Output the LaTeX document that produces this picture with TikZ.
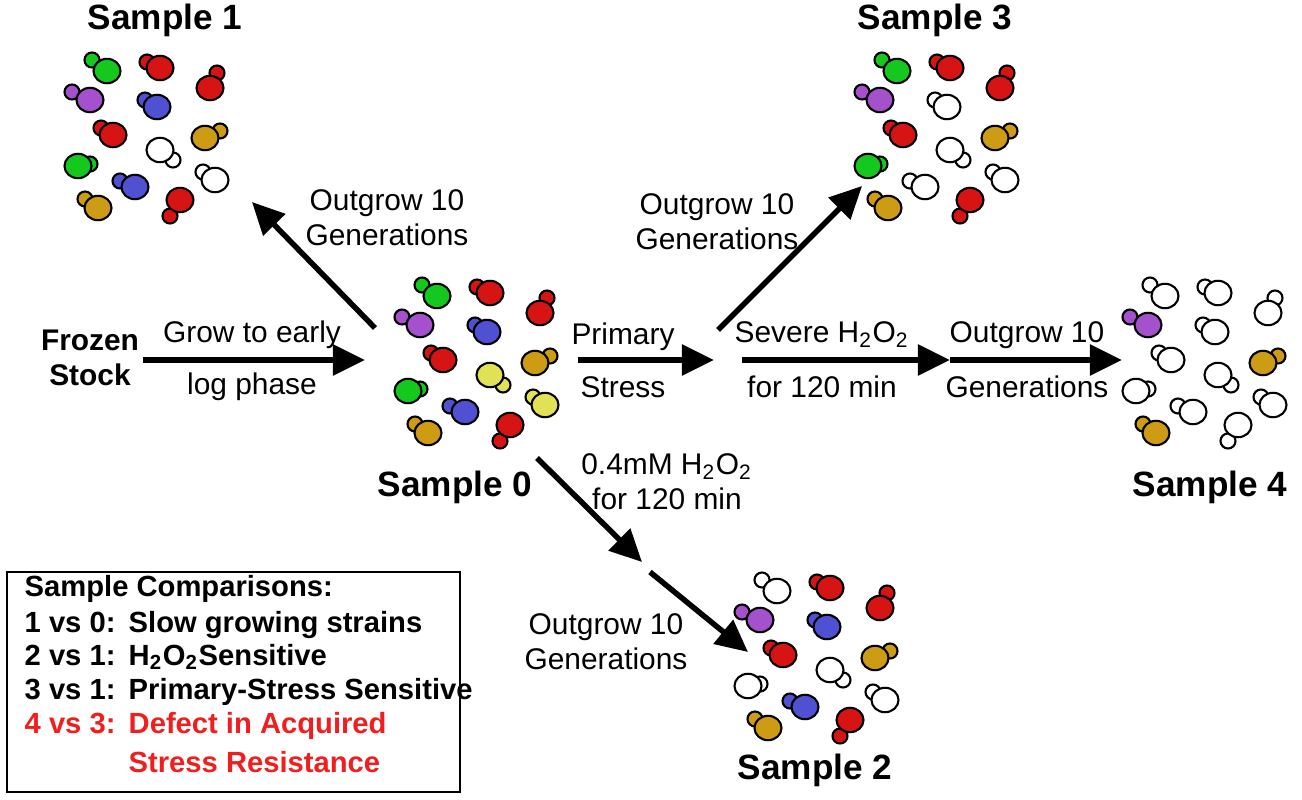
\documentclass[tikz,border=0pt]{standalone}
\usepackage{fontspec}
\setmainfont{Liberation Sans}
\usetikzlibrary{arrows.meta, positioning}
\definecolor{cgreen}{RGB}{20,200,30}
\definecolor{cred}{RGB}{215,20,20}
\definecolor{cpurple}{RGB}{165,80,205}
\definecolor{cblue}{RGB}{80,80,210}
\definecolor{cgold}{RGB}{205,155,20}
\definecolor{cyellow}{RGB}{225,225,85}
\definecolor{cwhite}{RGB}{255,255,255}
\definecolor{legred}{RGB}{240,30,30}
\newcommand\sub[1]{\textsubscript{#1}}
\tikzset{
  cell/.style={draw=black, line width=0.6pt},
  flow/.style={line width=0.55mm, -{Triangle[length=3.2mm,width=3mm]}},
  lbl/.style={font=\fontsize{8.5}{10}\selectfont, align=center},
  smp/.style={font=\fontsize{10}{12}\selectfont\bfseries},
  leg/.style={font=\fontsize{8.3}{10}\selectfont\bfseries, anchor=base west, inner sep=0pt}
}
% one colony: shift, colour list
\newcommand\colony[3]{%
  \begin{scope}[shift={(#1,#2)}]
  \def\cols{#3}
  \foreach \x/\y/\dx/\dy [count=\i from 0] in {437/296/-15/-11, 490/293/-13/-6, 540/313/7/-15,
      420/325/-18/-8, 487/332/-12/-7, 443/360/-12/-7, 535/363/15/-7, 490/375/13/10,
      408/391/12/-2, 545/405/-12/-8, 465/412/-15/-6, 428/433/-13/-9, 510/425/-10/16}{
    \pgfmathsetmacro\c{\cols[\i]}
    \filldraw[cell, fill=\c] (\x+\dx,\y+\dy) circle (0.075cm);
    \filldraw[cell, fill=\c] (\x,\y) ellipse (0.135cm and 0.122cm);
  }
  \end{scope}}
\begin{document}
\begin{tikzpicture}[x=0.01cm, y=-0.01cm]
\useasboundingbox (0,0) rectangle (1302,800);
% colonies
\colony{0}{0}{{"cgreen","cred","cred","cpurple","cblue","cred","cgold","cyellow","cgreen","cyellow","cblue","cgold","cred"}}
\colony{-330}{-225}{{"cgreen","cred","cred","cpurple","cblue","cred","cgold","cwhite","cgreen","cwhite","cblue","cgold","cred"}}
\colony{460}{-225}{{"cgreen","cred","cred","cpurple","cwhite","cred","cgold","cwhite","cgreen","cwhite","cwhite","cgold","cred"}}
\colony{728}{0}{{"cwhite","cwhite","cwhite","cpurple","cwhite","cwhite","cgold","cwhite","cwhite","cwhite","cwhite","cgold","cwhite"}}
\colony{340}{295}{{"cwhite","cred","cred","cpurple","cblue","cred","cgold","cwhite","cwhite","cwhite","cblue","cgold","cred"}}
% sample names
\node[smp] (s0) at (455,487) {Sample 0};
\node[smp] (s1) at (165,20) {Sample 1};
\node[smp] (s2) at (815,770) {Sample 2};
\node[smp] (s3) at (935,20) {Sample 3};
\node[smp] (s4) at (1210,487) {Sample 4};
\node[lbl, font=\fontsize{8.5}{10}\selectfont\bfseries] (frozen) at (90,358) {Frozen\\Stock};
% arrow ends
\coordinate (a1) at (143,360);  \coordinate (a2) at (365,360);
\coordinate (b1) at (375,328);  \coordinate (b2) at (252,202);
\coordinate (c1) at (578,360);  \coordinate (c2) at (714,360);
\coordinate (d1) at (718,330);  \coordinate (d2) at (862,186);
\coordinate (e1) at (742,360);  \coordinate (e2) at (950,360);
\coordinate (f1) at (950,360);  \coordinate (f2) at (1122,360);
\coordinate (g1) at (537,458);  \coordinate (g2) at (642,562);
\coordinate (h1) at (650,572);  \coordinate (h2) at (748,652);
\draw[flow] (a1) -- (a2);
\draw[flow] (b1) -- (b2);
\draw[flow] (c1) -- (c2);
\draw[flow] (d1) -- (d2);
\draw[flow] (e1) -- (e2);
\draw[flow] (f1) -- (f2);
\draw[flow] (g1) -- (g2);
\draw[flow] (h1) -- (h2);
% arrow labels
\node[lbl] (t1) at (252,335) {Grow to early};
\node[lbl] (t2) at (252,387) {log phase};
\node[lbl] (t3) at (387,218) {Outgrow 10\\Generations};
\node[lbl] (t4) at (623,337) {Primary};
\node[lbl] (t5) at (623,387) {Stress};
\node[lbl] (t6) at (717,222) {Outgrow 10\\Generations};
\node[lbl] (t7) at (822,335) {Severe H\sub{2}O\sub{2}};
\node[lbl] (t8) at (822,387) {for 120 min};
\node[lbl] (t9) at (1027,335) {Outgrow 10};
\node[lbl] (t10) at (1027,387) {Generations};
\node[lbl] (t11) at (667,482) {0.4mM H\sub{2}O\sub{2}\\for 120 min};
\node[lbl] (t12) at (606,642) {Outgrow 10\\Generations};
% legend
\draw[line width=0.8pt] (7,572) rectangle (460,792);
\node[leg] (l0) at (24,596) {Sample Comparisons:};
\node[leg] (l1) at (24,632) {1 vs 0:};
\node[leg] (l2) at (24,665) {2 vs 1:};
\node[leg] (l3) at (24,699) {3 vs 1:};
\node[leg, legred] (l4) at (24,733) {4 vs 3:};
\node[leg] (r1) at (128,632) {Slow growing strains};
\node[leg] (r2) at (128,665) {H\sub{2}O\sub{2}Sensitive};
\node[leg] (r3) at (128,699) {Primary-Stress Sensitive};
\node[leg, legred] (r4) at (128,733) {Defect in Acquired};
\node[leg, legred] (r5) at (128,772) {Stress Resistance};
\end{tikzpicture}
\end{document}
